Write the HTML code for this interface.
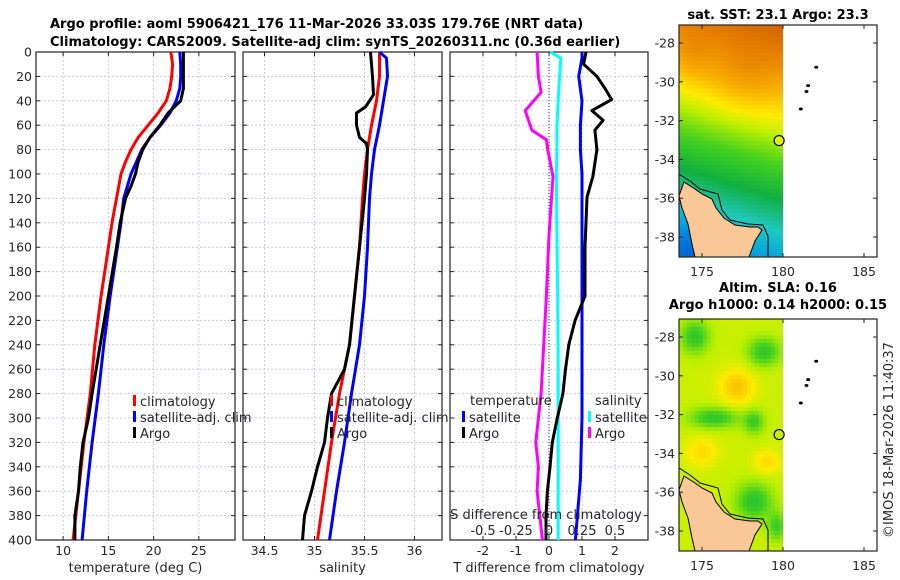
<!DOCTYPE html>
<html><head><meta charset="utf-8"><style>
body{margin:0;background:#fff}
svg{display:block;font-family:"DejaVu Sans","Liberation Sans",sans-serif}
.tk{font-size:12.5px;fill:#262626}
.tt{font-size:13px;font-weight:bold;fill:#000}
</style></head><body>
<svg id="c" width="900" height="580" viewBox="0 0 900 580"></svg>
<script>
// ---- data ----
const depthT = [0,10,20,30,40,50,60,70,80,90,100,120,140,160,200,240,280,320,360,400];
const tempClim = [21.9,22.1,22.0,21.8,21.4,20.5,19.4,18.3,17.5,16.9,16.4,15.9,15.4,15.0,14.2,13.5,13.0,12.3,11.7,11.1];
const tempSat  = [22.9,23.0,23.0,22.9,22.5,21.8,20.8,19.6,18.7,18.1,17.5,16.7,16.4,16.0,15.2,14.5,13.9,13.2,12.6,12.1];
const depthA = [0,10,20,30,40,45,50,60,70,80,90,100,110,120,140,160,200,240,280,300,320,340,360,380,400];
const tempArgo = [23.3,23.3,23.3,23.3,23.0,22.3,21.6,20.7,19.6,18.8,18.3,18.0,17.5,16.9,16.3,15.9,15.0,14.1,13.2,12.8,12.2,11.9,11.7,11.3,11.3];
const depthS = [0,5,20,40,60,80,100,120,160,200,240,280,320,360,400];
const salClim = [35.65,35.65,35.65,35.62,35.57,35.53,35.50,35.48,35.45,35.40,35.35,35.25,35.17,35.10,35.03];
const salSat  = [35.65,35.72,35.73,35.69,35.65,35.60,35.57,35.55,35.53,35.50,35.45,35.37,35.30,35.22,35.15];
const depthSA = [0,20,35,45,50,60,70,75,80,100,120,160,200,240,260,280,300,320,340,360,380,400];
const salArgo = [35.56,35.58,35.59,35.51,35.42,35.42,35.45,35.52,35.53,35.52,35.50,35.45,35.40,35.35,35.30,35.17,35.13,35.10,35.03,34.97,34.90,34.88];
const depthD = [0,5,20,40,60,80,100,150,200,250,300,350,400];
const dTsat = [1.0,1.0,0.9,1.0,0.95,0.95,1.0,1.0,1.0,1.0,1.0,0.95,0.8];
const dSsat = [0.01,0.09,0.08,0.07,0.06,0.06,0.055,0.06,0.065,0.07,0.07,0.07,0.07];
const depthDA = [0,10,20,30,39,48,56,64,80,102,119,160,200,220,240,260,280,300,320,340,360,380,400];
const dTargo = [1.12,1.05,1.45,1.7,1.9,1.3,1.64,1.39,1.45,1.33,1.15,1.09,1.09,0.79,0.6,0.5,0.42,0.25,0.1,0.03,-0.05,-0.09,-0.09];
const depthDS = [0,20,33,48,64,72,80,102,150,200,260,280,300,320,340,360,380,400];
const dSargo = [-0.09,-0.08,-0.06,-0.18,-0.13,-0.02,-0.01,0.03,0.0,-0.02,-0.05,-0.06,-0.08,-0.1,-0.08,-0.09,-0.07,-0.05];
const yTicks = [0,20,40,60,80,100,120,140,160,180,200,220,240,260,280,300,320,340,360,380,400];
const tTicks = [10,15,20,25], sTicks=[34.5,35,35.5,36], dTTicks=[-2,-1,0,1,2], dSTicks=[-0.5,-0.25,0,0.25,0.5];
const dSLabels=["-0.5","-0.25","0","0.25","0.5"];
const latTicks=[-28,-30,-32,-34,-36,-38], lonTicks=[175,180,185];
const islands=[[182.05,-29.25],[181.55,-30.2],[181.45,-30.5],[181.1,-31.4]];
const argoPos=[179.76,-33.03];

const svg=document.getElementById('c'), NS='http://www.w3.org/2000/svg';
function mk(tag,at,parent,txt){const e=document.createElementNS(NS,tag);for(const k in at)e.setAttribute(k,at[k]);if(txt!==undefined)e.textContent=txt;(parent||svg).appendChild(e);return e;}
const Y=d=>52+d*1.22;
const panels=[
 {x0:36,x1:235,min:7,max:29,ticks:tTicks,lab:'temperature (deg C)',name:'temperature'},
 {x0:243,x1:442,min:34.285,max:36.275,ticks:sTicks,lab:'salinity',name:'salinity'},
 {x0:450,x1:648,min:-3,max:3,ticks:dTTicks,lab:'T difference from climatology',name:'difference'}];
panels.forEach(p=>{p.X=v=>p.x0+(v-p.min)/(p.max-p.min)*(p.x1-p.x0);
 const g=mk('g',{});
 yTicks.forEach(d=>{mk('line',{x1:p.x0,x2:p.x1,y1:Y(d),y2:Y(d),stroke:'#c6c8e4','stroke-dasharray':'2,2','stroke-width':1},g);
  mk('line',{x1:p.x0,x2:p.x0+4,y1:Y(d),y2:Y(d),stroke:'#222'},g);mk('line',{x1:p.x1-4,x2:p.x1,y1:Y(d),y2:Y(d),stroke:'#222'},g);});
 p.ticks.forEach(v=>{const x=p.X(v);mk('line',{x1:x,x2:x,y1:52,y2:540,stroke:'#c6c8e4','stroke-dasharray':'2,2'},g);
  mk('line',{x1:x,x2:x,y1:536,y2:540,stroke:'#222'},g);mk('line',{x1:x,x2:x,y1:52,y2:56,stroke:'#222'},g);
  const t=mk('text',{x:x,y:555,'text-anchor':'middle',class:'tk'},g,String(v));});
 mk('rect',{x:p.x0,y:52,width:p.x1-p.x0,height:488,fill:'none',stroke:'#222','stroke-width':1.2},g);
 const xl=mk('text',{x:(p.x0+p.x1)/2,y:572,'text-anchor':'middle',class:'tk',style:'font-size:13px'},g,p.lab);
 
});
yTicks.forEach(d=>{const t=mk('text',{x:32,y:Y(d)+4.5,'text-anchor':'end',class:'tk'},null,String(d));});
const P3=panels[2];
mk('line',{x1:P3.X(0),x2:P3.X(0),y1:52,y2:540,stroke:'#555','stroke-dasharray':'1,2',"stroke-width":1.2});
function line(p,xs,ds,col,name,scale){const s=scale||1;const pts=xs.map((v,i)=>p.X(v*s).toFixed(1)+','+Y(ds[i]).toFixed(1)).join(' ');
 const e=mk('polyline',{points:pts,fill:'none',stroke:col,'stroke-width':3,'stroke-linejoin':'round'});
 }
line(panels[0],tempClim,depthT,'#f00','temp-climatology-line');
line(panels[0],tempSat,depthT,'#00f','temp-satellite-line');
line(panels[0],tempArgo,depthA,'#000','temp-argo-line');
line(panels[1],salClim,depthS,'#f00','sal-climatology-line');
line(panels[1],salSat,depthS,'#00f','sal-satellite-line');
line(panels[1],salArgo,depthSA,'#000','sal-argo-line');
line(P3,dSsat,depthD,'#0ff','dS-satellite-line',4);
line(P3,dSargo,depthDS,'#f0f','dS-argo-line',4);
line(P3,dTsat,depthD,'#00f','dT-satellite-line');
line(P3,dTargo,depthDA,'#000','dT-argo-line');
mk('text',{x:546,y:519,'text-anchor':'middle',class:'tk',style:'font-size:13px'},null,'S difference from climatology');
dSTicks.forEach((v,i)=>{mk('text',{x:P3.X(v*4),y:535,'text-anchor':'middle',class:'tk',style:'font-size:13px'},null,dSLabels[i]);});
function leg(x,y,col,txt,name){const g=mk('g',{});
 mk('rect',{x:x,y:y-11,width:3,height:11,fill:col},g);mk('text',{x:x+7,y:y,class:'tk',style:'font-size:13px'},g,txt);}
leg(133,406,'#f00','climatology','legend-climatology');leg(133,422,'#00f','satellite-adj. clim','legend-satellite');leg(133,438,'#000','Argo','legend-argo');
leg(330,406,'#f00','climatology','legend2-climatology');leg(330,422,'#00f','satellite-adj. clim','legend2-satellite');leg(330,438,'#000','Argo','legend2-argo');
mk('text',{x:470,y:405,class:'tk',style:'font-size:13px'},null,'temperature');
mk('text',{x:595,y:405,class:'tk',style:'font-size:13px'},null,'salinity');
leg(462,422,'#00f','satellite','legend3-t-satellite');leg(462,438,'#000','Argo','legend3-t-argo');
leg(588,422,'#0ff','satellite','legend3-s-satellite');leg(588,438,'#f0f','Argo','legend3-s-argo');
mk('text',{x:50,y:28,class:'tt'},null,'Argo profile: aoml 5906421_176 11-Mar-2026 33.03S 179.76E (NRT data)');
mk('text',{x:50,y:46,class:'tt'},null,'Climatology: CARS2009. Satellite-adj clim: synTS_20260311.nc (0.36d earlier)');
// ---- maps ----
const stops=[[0,[0,48,208]],[0.2,[0,160,224]],[0.3,[32,200,192]],[0.4,[16,176,64]],[0.5,[64,208,32]],[0.6,[192,240,0]],[0.66,[255,236,0]],[0.76,[248,176,0]],[0.86,[232,128,0]],[1,[192,80,0]]];
function cmap(v){v=Math.max(0,Math.min(1,v));for(let i=1;i<stops.length;i++){if(v<=stops[i][0]){const a=stops[i-1],b=stops[i],t=(v-a[0])/(b[0]-a[0]);return 'rgb('+a[1].map((c,k)=>Math.round(c+(b[1][k]-c)*t)).join(',')+')';}}}
const gs=(x,y,cx,cy,rx,ry)=>Math.exp(-((x-cx)**2/(rx*rx)+(y-cy)**2/(ry*ry)));
function map(oy,title1,title2,field,name,circFill){
 const g=mk('g',{});
 const LX=lon=>783+(lon-180)*16.2, LY=lat=>oy+47+(-28-lat)*19.4;
 for(let x=679;x<783;x+=4)for(let y=oy+29;y<oy+261;y+=4){mk('rect',{x:x,y:y,width:4.3,height:4.3,fill:cmap(field(x,y-oy))},g);}
 const land=[[679,200],[684,186],[695,193],[702,198],[712,203],[716,212],[724,222],[735,229],[750,231],[758,231],[762,234],[755,245],[749,261],[695,261],[692,248],[688,228],[682,212]].map(p=>p[0]+','+(p[1]+oy)).join(' ');
 mk('polygon',{points:land,fill:'#f9c896',stroke:'#000','stroke-width':1},g);
 mk('polyline',{points:[[679,178],[690,185],[700,193],[718,198],[722,214],[730,224],[748,228],[763,229],[768,240],[768,261]].map(p=>p[0]+','+(p[1]+oy)).join(' '),fill:'none',stroke:'#000','stroke-width':1},g);
 mk('rect',{x:783,y:oy+29,width:94,height:232,fill:'#fff'},g);
 mk('rect',{x:679,y:oy+29,width:198,height:232,fill:'none',stroke:'#222','stroke-width':1.2},g);
 islands.forEach(p=>mk('ellipse',{cx:LX(p[0]),cy:LY(p[1]),rx:2,ry:1.5,fill:'#000'},g));
 mk('circle',{cx:LX(argoPos[0]),cy:LY(argoPos[1]),r:5,fill:circFill,stroke:'#000','stroke-width':1.2},g);
 latTicks.forEach(l=>{const y=LY(l);mk('line',{x1:679,x2:683,y1:y,y2:y,stroke:'#222'},g);mk('line',{x1:873,x2:877,y1:y,y2:y,stroke:'#222'},g);
  mk('text',{x:675,y:y+4.5,'text-anchor':'end',class:'tk'},g,String(l));});
 lonTicks.forEach(l=>{const x=LX(l);mk('line',{x1:x,x2:x,y1:oy+257,y2:oy+261,stroke:'#222'},g);mk('line',{x1:x,x2:x,y1:oy+29,y2:oy+33,stroke:'#222'},g);
  mk('text',{x:x,y:oy+280,'text-anchor':'middle',class:'tk'},g,String(l));});
 if(title2){mk('text',{x:778,y:oy+2,'text-anchor':'middle',class:'tt'},g,title1);mk('text',{x:778,y:oy+19,'text-anchor':'middle',class:'tt'},g,title2);}
 else mk('text',{x:778,y:oy+23,'text-anchor':'middle',class:'tt'},g,title1);
}
map(-4,'sat. SST: 23.1 Argo: 23.3',null,(x,y)=>{const t=(y-29)/232,xr=(x-679)/104;return 0.84-0.72*t+0.1*xr+0.06*gs(x,y,740,80,35,35)-0.06*gs(x,y,692,245,20,25)+0.05*gs(x,y,690,60,20,25);},'sst-map','#e6f000');
map(290,'Altim. SLA: 0.16','Argo h1000: 0.14 h2000: 0.15',(x,y)=>{y+=290;return 0.61-0.14*gs(x,y,693,335,14,16)-0.14*gs(x,y,762,350,16,14)-0.14*gs(x,y,712,416,24,10)-0.12*gs(x,y,752,420,10,12)-0.15*gs(x,y,752,500,18,18)-0.12*gs(x,y,775,525,9,14)+0.12*gs(x,y,735,385,17,17)+0.08*gs(x,y,700,450,16,14)+0.08*gs(x,y,765,460,13,12)+0.08*gs(x,y,730,305,16,9);},'sla-map','none');
const cr=mk('text',{x:0,y:0,class:'tk',style:'font-size:13px','text-anchor':'middle',transform:'translate(893,440) rotate(-90)'},null,'©IMOS 18-Mar-2026 11:40:37');

</script>
</body></html>
